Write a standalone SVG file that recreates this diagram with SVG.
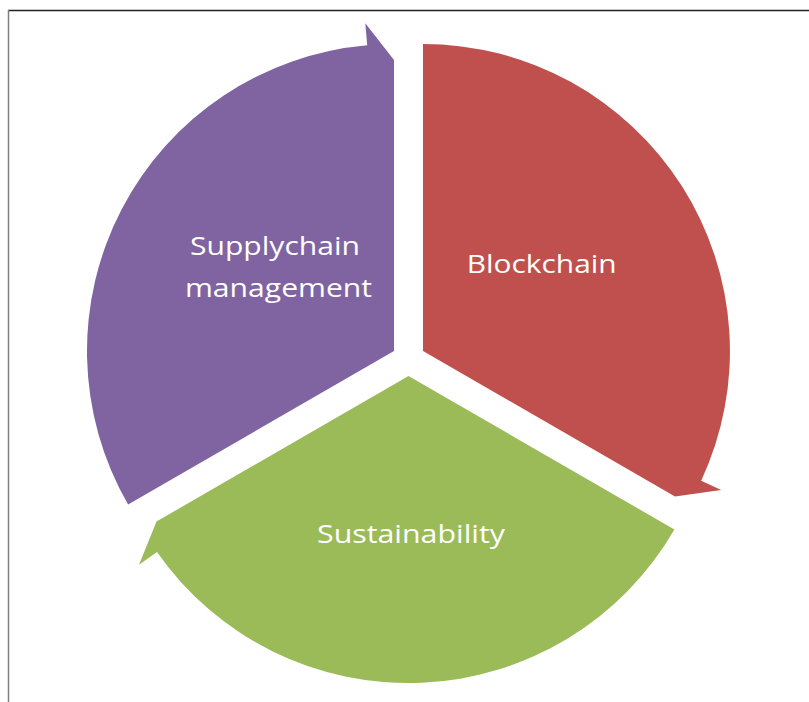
<svg xmlns="http://www.w3.org/2000/svg" width="809" height="702" viewBox="0 0 809 702">
  <style>
    .lbl { font-family: "Open Sans", "Liberation Sans", sans-serif; font-size: 26px; fill: #FFFFFF; text-anchor: middle; }
  </style>
  <rect x="0" y="0" width="809" height="702" fill="#FFFFFF"/>
  <g id="frame">
    <line x1="8" y1="10.5" x2="809" y2="10.5" stroke="#222222" stroke-width="1.5"/>
    <line x1="8.5" y1="10" x2="8.5" y2="702" stroke="#7F7F7F" stroke-width="1.5"/>
  </g>
  <g id="connectors"></g>
  <g id="node-blockchain">
    <path d="M423,351 L423,44 A307,307 0 0 1 701.2,480.7 L721.2,490 L675,496.5 Z" fill="#C0504D"/>
    <text class="lbl" x="541.7" y="273" textLength="150" lengthAdjust="spacingAndGlyphs">Blockchain</text>
  </g>
  <g id="node-sustainability">
    <path d="M408.5,376 L674.4,529.5 A307,307 0 0 1 157,552.1 L139,564.7 L156.5,521.5 Z" fill="#9BBB59"/>
    <text class="lbl" x="411" y="543" textLength="188" lengthAdjust="spacingAndGlyphs">Sustainability</text>
  </g>
  <g id="node-supplychain">
    <path d="M394,351 L128.1,504.5 A307,307 0 0 1 367.2,45.2 L365.3,23.3 L394,60 Z" fill="#8064A2"/>
    <text class="lbl" x="275" y="255" textLength="170" lengthAdjust="spacingAndGlyphs">Supplychain</text>
    <text class="lbl" x="278.5" y="297" textLength="187" lengthAdjust="spacingAndGlyphs">management</text>
  </g>
</svg>
